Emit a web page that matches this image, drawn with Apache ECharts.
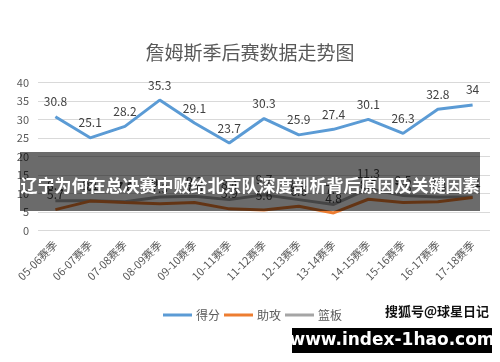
<!DOCTYPE html>
<html><head><meta charset="utf-8">
<script src="https://cdn.jsdelivr.net/npm/echarts@6/dist/echarts.min.js"></script>
<style>html,body{margin:0;padding:0;background:#fff}#c{width:500px;height:362px}</style>
</head><body><div id="c"></div>
<script>
const categories = ['05-06赛季','06-07赛季','07-08赛季','08-09赛季','09-10赛季','10-11赛季','11-12赛季','12-13赛季','13-14赛季','14-15赛季','15-16赛季','16-17赛季','17-18赛季'];
const points = [30.8, 25.1, 28.2, 35.3, 29.1, 23.7, 30.3, 25.9, 27.4, 30.1, 26.3, 32.8, 34];
const assists = [5.7, 8.0, 7.6, 7.3, 7.6, 5.9, 5.6, 6.6, 4.8, 8.5, 7.6, 7.8, 9.0];
const rebounds = [8.1, 8.1, 7.8, 9.1, 9.3, 8.4, 9.7, 8.4, 7.1, 11.3, 9.5, 9.1, 9.1];
const yTicks = {min: 0, max: 40, interval: 5};
const font = '"Noto Sans CJK SC", "Microsoft YaHei", sans-serif';
const chart = echarts.init(document.getElementById('c'), null, {renderer: 'canvas'});
function series(name, data, color, z) {
  return {
    name, type: 'line', data, symbol: 'circle', symbolSize: 0, showSymbol: true, smooth: false, z,
    lineStyle: {color, width: 3}, itemStyle: {color},
    label: {show: true, position: 'top', distance: 9, color: '#404040', fontSize: 12, fontFamily: font}
  };
}
chart.setOption({
  animation: false,
  title: {text: '詹姆斯季后赛数据走势图', left: 'center', top: 38,
    textStyle: {color: '#595959', fontSize: 19, fontWeight: 'normal', fontFamily: font}},
  grid: {left: 38, right: 10, top: 82.7, bottom: 131.3, containLabel: false},
  legend: {data: ['得分','助攻','篮板'], left: 158, top: 304, icon: 'rect', itemWidth: 29, itemHeight: 3, itemGap: 4,
    textStyle: {color: '#595959', fontSize: 12, fontFamily: font, padding: [0,0,0,-1]}},
  xAxis: {type: 'category', data: categories, boundaryGap: true,
    axisLine: {show: false}, axisTick: {show: false},
    axisLabel: {rotate: 45, color: '#595959', fontSize: 11, fontFamily: font, margin: 12, interval: 0}},
  yAxis: {type: 'value', min: yTicks.min, max: yTicks.max, interval: yTicks.interval,
    axisLine: {show: false}, axisTick: {show: false},
    axisLabel: {color: '#595959', fontSize: 11, fontFamily: font, margin: 9},
    splitLine: {lineStyle: {color: '#d9d9d9', width: 1}}},
  series: [series('得分', points, '#5B9BD5', 3), series('助攻', assists, '#ED7D31', 2), series('篮板', rebounds, '#A5A5A5', 1)],
  graphic: [
    {type: 'rect', shape: {x: 20, y: 152, width: 460, height: 59}, style: {fill: 'rgba(0,0,0,0.58)'}, z: 100},
    {type: 'text', x: 250, y: 186, style: {text: '辽宁为何在总决赛中败给北京队深度剖析背后原因及关键因素', fill: '#fff',
      font: 'bold 17px ' + font, textAlign: 'center', textVerticalAlign: 'middle'}, z: 101},
    {type: 'text', x: 437, y: 311, style: {text: '搜狐号@球星日记', fill: '#111',
      font: 'bold 13px ' + font, textAlign: 'center', textVerticalAlign: 'middle'}, z: 101},
    {type: 'rect', shape: {x: 292, y: 328, width: 200, height: 25}, style: {fill: '#000'}, z: 100},
    {type: 'text', x: 392, y: 340.5, style: {text: 'www.index-1hao.com', fill: '#fff',
      font: 'bold 17px "DejaVu Sans", sans-serif', textAlign: 'center', textVerticalAlign: 'middle'}, z: 101}
  ]
});
</script></body></html>
